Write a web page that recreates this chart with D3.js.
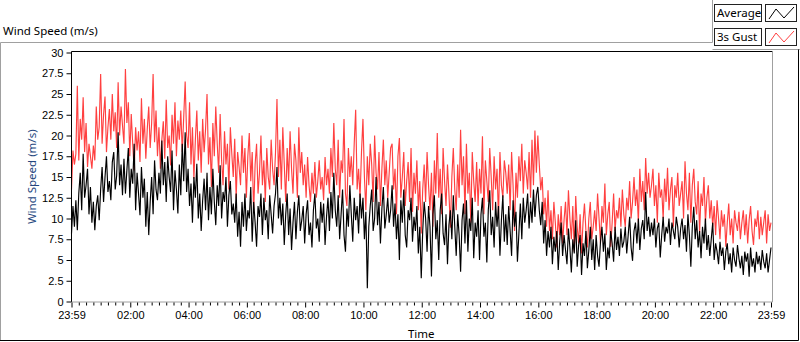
<!DOCTYPE html>
<html>
<head>
<meta charset="utf-8">
<script src="https://cdn.jsdelivr.net/npm/d3@7"></script>
<style>
  body { margin: 0; background: #fff; }
  svg { display: block; font-family: "Noto Sans", sans-serif; }
  .tick text { font-size: 11px; fill: #000; }
</style>
</head>
<body>
<svg id="chart" width="800" height="342"></svg>
<script>
// one sample every 3 minutes, starting 23:59 (481 samples, 20 per hour row)
const stepMinutes = 3;

const avgSpeed = [
  8.2, 11.5, 9.0, 12.2, 8.6, 13.0, 15.5, 11.0, 17.8, 12.5, 14.0, 16.0, 10.5, 13.8, 9.5, 12.0, 8.6, 11.5, 12.8, 9.8,
  13.5, 16.2, 12.0, 15.0, 17.5, 13.2, 14.5, 12.2, 16.8, 18.0, 13.5, 15.2, 20.4, 14.0, 16.5, 12.8, 17.2, 13.0, 15.8, 18.5,
  12.5, 16.0, 14.2, 19.0, 11.0, 15.5, 13.0, 10.4, 16.2, 12.5, 14.8, 9.0, 13.2, 8.0, 12.0, 15.0, 10.5, 17.0, 13.5, 12.2,
  15.5, 13.0, 19.4, 14.0, 16.8, 12.0, 17.5, 15.0, 13.2, 18.2, 11.0, 15.8, 13.5, 10.6, 16.5, 12.8, 19.0, 14.5, 20.4, 13.2,
  16.0, 11.5, 14.2, 9.5, 15.0, 12.5, 16.6, 10.0, 13.0, 8.5, 12.2, 14.8, 11.0, 15.5, 9.8, 13.8, 10.5, 16.0, 12.0, 9.2,
  14.0, 11.5, 16.4, 10.0, 13.2, 12.0, 15.0, 9.0, 12.8, 14.5, 10.5, 11.8, 9.5, 13.0, 7.8, 10.8, 6.6, 12.0, 9.0, 13.0,
  8.5, 11.0, 10.0, 13.8, 7.2, 12.0, 9.5, 6.6, 11.5, 10.2, 13.0, 8.0, 12.5, 9.8, 11.0, 7.5, 12.8, 10.5, 8.2, 11.5,
  13.0, 16.2, 10.0, 12.5, 9.2, 11.8, 6.8, 10.5, 13.0, 8.0, 11.2, 6.2, 9.5, 12.0, 7.5, 10.8, 12.8, 8.5, 9.8, 11.5,
  7.0, 10.5, 12.2, 8.0, 9.5, 6.5, 11.0, 13.0, 8.8, 10.0, 7.2, 12.0, 9.5, 11.8, 6.8, 10.2, 12.5, 8.5, 13.2, 10.0,
  15.5, 11.0, 9.0, 12.8, 7.5, 10.5, 13.5, 8.0, 6.0, 11.2, 9.0, 14.0, 10.5, 7.2, 12.5, 9.8, 11.5, 8.2, 13.0, 10.0,
  12.5, 7.5, 10.8, 1.6, 9.0, 11.5, 13.5, 8.5, 10.0, 15.0, 9.2, 12.0, 7.0, 11.2, 13.8, 8.8, 10.5, 12.5, 9.5, 11.0,
  14.0, 9.0, 11.8, 7.5, 10.5, 5.0, 12.2, 9.5, 13.5, 8.0, 6.5, 11.0, 9.8, 12.5, 7.2, 10.2, 8.5, 11.5, 5.8, 9.0,
  2.8, 8.5, 12.0, 10.0, 6.0, 11.5, 9.0, 3.0, 10.5, 12.8, 7.5, 9.8, 5.0, 11.0, 13.0, 8.2, 6.8, 10.5, 4.5, 9.2,
  11.0, 7.5, 12.8, 9.0, 5.5, 10.5, 8.0, 3.6, 9.8, 11.8, 7.0, 12.2, 6.0, 10.0, 8.5, 12.5, 5.2, 9.5, 7.8, 11.0,
  5.0, 10.5, 12.5, 7.8, 9.5, 4.7, 11.0, 13.4, 8.0, 10.2, 6.5, 12.0, 9.0, 11.5, 5.5, 9.8, 12.8, 7.2, 10.5, 6.8,
  11.5, 8.5, 5.5, 12.2, 9.0, 10.8, 4.8, 8.2, 11.8, 7.5, 12.5, 9.5, 11.0, 13.0, 8.8, 12.0, 9.5, 13.5, 10.2, 12.8,
  13.8, 11.0, 9.2, 12.0, 7.0, 9.8, 5.5, 8.5, 6.5, 9.0, 4.5, 7.8, 6.0, 8.5, 3.8, 7.2, 9.5, 5.5, 8.0, 6.2,
  4.5, 8.8, 6.5, 3.5, 7.5, 5.8, 9.8, 4.2, 6.8, 8.0, 3.2, 7.0, 5.5, 8.5, 4.0, 6.2, 9.0, 5.0, 7.5, 3.8,
  8.0, 5.5, 4.2, 7.2, 9.0, 6.0, 8.2, 3.8, 6.5, 5.2, 8.5, 7.0, 4.8, 9.0, 6.2, 7.8, 5.5, 8.8, 6.5, 7.2,
  9.0, 5.8, 8.0, 10.2, 6.5, 4.9, 8.5, 9.5, 7.0, 10.0, 6.2, 8.8, 9.8, 7.5, 13.2, 8.5, 10.2, 7.8, 9.5, 8.0,
  10.0, 6.5, 8.8, 9.5, 5.3, 8.0, 10.2, 7.2, 9.0, 8.2, 10.0, 6.8, 9.5, 8.5, 7.5, 10.2, 9.0, 6.5, 8.8, 10.0,
  7.5, 9.2, 6.0, 10.5, 8.0, 4.2, 9.0, 11.4, 7.5, 9.8, 6.5, 8.5, 5.2, 9.0, 7.0, 10.0, 6.2, 8.0, 5.5, 7.5,
  9.5, 5.0, 7.0, 6.0, 4.5, 7.2, 5.5, 6.5, 3.8, 6.0, 7.0, 4.5, 5.8, 3.5, 6.5, 5.0, 4.2, 6.8, 5.2, 4.0,
  5.5, 3.2, 6.0, 4.8, 5.8, 3.0, 6.5, 4.2, 5.2, 3.5, 6.0, 4.5, 5.5, 3.8, 6.2, 4.8, 4.0, 5.8, 3.5, 5.0,
  6.5
];

const gustSpeed = [
  13.5, 18.2, 16.5, 17.8, 26.0, 17.0, 22.0, 19.5, 24.6, 18.0, 21.5, 16.2, 19.0, 17.5, 16.0, 18.8, 17.0, 23.5, 19.5, 21.0,
  27.4, 19.0, 22.5, 24.7, 18.0, 21.0, 23.2, 19.5, 25.0, 20.5, 22.8, 18.5, 26.4, 20.0, 23.5, 21.2, 19.0, 28.0, 21.5, 24.0,
  17.5, 22.6, 19.0, 15.8, 21.0, 18.2, 20.5, 16.8, 24.5, 19.0, 22.0, 17.2, 20.8, 23.5, 18.5, 21.5, 27.4, 19.2, 23.0, 17.5,
  21.0, 16.0, 19.5, 21.7, 17.2, 24.3, 18.5, 20.0, 16.4, 22.5, 19.0, 24.0, 17.5, 21.8, 19.5, 23.0, 18.0, 22.2, 26.5, 20.0,
  18.5, 24.0, 16.5, 21.0, 14.8, 19.5, 23.0, 17.0, 20.5, 15.5, 22.0, 18.0, 20.8, 25.0, 16.5, 19.8, 13.8, 21.5, 17.5, 23.5,
  19.0, 15.5, 22.6, 17.0, 14.0, 20.5, 16.5, 19.0, 13.5, 21.0, 17.8, 15.0, 19.6, 12.4, 18.0, 16.2, 14.0, 20.0, 15.5, 18.5,
  12.5, 17.5, 20.3, 14.5, 18.0, 10.7, 16.5, 19.0, 13.0, 15.5, 20.0, 14.0, 17.0, 12.0, 18.5, 15.0, 13.5, 19.5, 16.0, 14.0,
  18.0, 24.4, 15.0, 19.5, 13.5, 21.0, 16.5, 12.0, 18.5, 14.5, 20.5, 16.0, 13.0, 19.0, 17.0, 12.5, 21.0, 15.5, 18.0, 14.0,
  16.5, 12.5, 17.4, 14.0, 12.0, 15.5, 13.0, 16.8, 12.5, 14.5, 17.0, 13.5, 15.0, 12.2, 17.4, 14.0, 16.0, 13.0, 18.5, 15.0,
  21.5, 16.0, 14.0, 19.5, 12.5, 17.0, 15.5, 22.0, 13.0, 11.5, 18.5, 15.0, 17.5, 14.0, 19.0, 23.1, 13.5, 16.0, 12.5, 18.0,
  22.0, 15.0, 11.0, 17.5, 14.0, 19.0, 16.5, 12.0, 20.0, 15.5, 13.5, 18.0, 11.5, 16.0, 19.5, 14.0, 17.0, 12.5, 15.5, 18.5,
  19.0, 13.5, 16.0, 10.5, 17.5, 19.7, 12.5, 15.0, 18.0, 11.5, 14.5, 16.8, 12.0, 18.5, 10.8, 15.5, 13.0, 17.0, 11.0, 14.5,
  8.2, 13.5, 16.5, 12.0, 18.0, 14.0, 11.0, 15.5, 9.0, 17.0, 13.0, 20.3, 12.5, 16.0, 10.5, 18.5, 14.5, 11.5, 16.5, 13.0,
  8.9, 15.0, 18.5, 13.5, 11.0, 16.5, 12.5, 20.7, 14.0, 17.5, 10.5, 19.0, 13.0, 15.5, 9.5, 18.0, 14.5, 12.0, 16.8, 11.5,
  16.0, 13.0, 19.9, 10.5, 17.0, 14.5, 12.0, 18.5, 15.0, 11.0, 17.5, 13.5, 16.0, 10.0, 18.0, 14.0, 12.5, 17.0, 15.5, 13.0,
  16.5, 11.0, 18.0, 14.0, 8.5, 15.5, 12.5, 17.5, 14.5, 19.0, 13.0, 17.0, 15.5, 13.5, 18.0, 12.5, 19.5, 14.0, 20.6, 15.5,
  20.0, 16.5, 13.4, 15.0, 10.5, 12.5, 9.0, 13.4, 8.5, 11.0, 7.5, 12.0, 9.5, 6.5, 10.5, 8.0, 11.5, 7.0, 9.8, 12.0,
  8.0, 13.4, 10.0, 7.5, 11.5, 6.0, 12.7, 9.0, 7.0, 10.5, 5.8, 9.5, 11.8, 8.5, 6.5, 10.0, 12.0, 7.5, 9.0, 11.0,
  8.5, 13.0, 10.0, 7.0, 11.5, 9.5, 14.2, 8.0, 10.5, 12.0, 6.6, 9.5, 13.0, 8.5, 11.0, 10.0, 12.5, 9.0, 13.5, 10.5,
  9.0, 12.5, 11.0, 14.5, 10.0, 12.0, 15.0, 11.5, 13.5, 9.5, 16.0, 12.0, 14.5, 11.0, 17.3, 13.0, 15.5, 12.5, 14.0, 16.0,
  11.5, 14.0, 9.5, 15.5, 12.5, 13.5, 10.0, 14.8, 12.0, 16.1, 11.0, 13.5, 15.0, 9.0, 14.0, 12.5, 15.5, 11.5, 13.0, 14.5,
  10.0, 16.9, 13.0, 11.0, 15.5, 9.5, 14.0, 16.0, 12.0, 10.5, 14.5, 8.3, 13.0, 11.5, 15.0, 9.5, 12.5, 14.0, 10.0, 12.2,
  9.0, 11.5, 8.0, 12.2, 10.0, 7.5, 11.0, 9.0, 10.5, 6.6, 9.5, 11.8, 8.0, 10.0, 7.0, 11.0, 9.5, 8.5, 10.8, 7.5,
  9.5, 11.0, 8.0, 10.5, 7.0, 9.8, 11.5, 8.5, 6.8, 10.0, 9.0, 11.0, 7.5, 10.2, 8.0, 9.5, 11.0, 7.0, 10.5, 8.5,
  9.5
];

const yTicks = [0, 2.5, 5, 7.5, 10, 12.5, 15, 17.5, 20, 22.5, 25, 27.5, 30];
// minutes after 23:59 for the labelled ticks
const xTickMinutes = [0, 121, 241, 361, 481, 601, 721, 841, 961, 1081, 1201, 1321, 1440];
const xTickLabels = ["23:59", "02:00", "04:00", "06:00", "08:00", "10:00", "12:00",
                     "14:00", "16:00", "18:00", "20:00", "22:00", "23:59"];
const seriesNames = ["Average", "3s Gust"];
const seriesColors = ["#000000", "#ff4040"];

const svg = d3.select('#chart');

const plotLeft = 71.5, plotRight = 772.5, plotTop = 51.5, plotBottom = 302;

const x = d3.scaleLinear().domain([0, 1440]).range([plotLeft, 771]);
const y = d3.scaleLinear().domain([0, 30]).range([301.5, 52.5]);

// outer panel frame
svg.append('path')
    .attr('d', 'M0.5,341 V42.5 H712.5 V0 M712.5,49.5 H800')
    .attr('fill', 'none').attr('stroke', '#a0a0a0');
svg.append('path')
    .attr('d', 'M798.5,49.5 V340.5 H0')
    .attr('fill', 'none').attr('stroke', '#000');

svg.append('text')
    .attr('x', 3).attr('y', 35)
    .style('font-size', '11.5px')
    .text('Wind Speed (m/s)');

// plot area
svg.append('rect')
    .attr('x', plotLeft).attr('y', plotTop)
    .attr('width', plotRight - plotLeft).attr('height', plotBottom - plotTop)
    .attr('fill', '#fff');

const line = d3.line()
    .x(function(d, i) { return x(i * stepMinutes); })
    .y(function(d) { return y(d); });

const plot = svg.append('g');
plot.append('path')
    .datum(gustSpeed)
    .attr('fill', 'none')
    .attr('stroke', seriesColors[1])
    .attr('stroke-width', 1.15)
    .attr('d', line);
plot.append('path')
    .datum(avgSpeed)
    .attr('fill', 'none')
    .attr('stroke', seriesColors[0])
    .attr('stroke-width', 1.15)
    .attr('d', line);

// sunken border of the plot area
svg.append('path')
    .attr('d', 'M' + plotLeft + ',' + plotBottom + ' V' + plotTop + ' H' + plotRight)
    .attr('fill', 'none').attr('stroke', '#000');
svg.append('path')
    .attr('d', 'M' + plotRight + ',' + plotTop + ' V' + plotBottom + ' H' + plotLeft)
    .attr('fill', 'none').attr('stroke', '#a0a0a0');

// y axis
const yAxis = d3.axisLeft(y)
    .tickValues(yTicks)
    .tickSize(5)
    .tickPadding(3)
    .tickFormat(function(d) { return String(d); });
const gy = svg.append('g')
    .attr('transform', 'translate(' + plotLeft + ',0)')
    .call(yAxis);
gy.select('.domain').remove();

// x axis: minor ticks every 15 minutes, labelled ticks every 2 hours
const minorTicks = d3.range(15, 1440, 15).filter(function(m) {
    return xTickMinutes.every(function(t) { return Math.abs(t - m) > 3; });
});
const gxMinor = svg.append('g')
    .attr('transform', 'translate(0,' + (plotBottom + 0.5) + ')')
    .call(d3.axisBottom(x).tickValues(minorTicks).tickSize(3).tickFormat(''));
gxMinor.select('.domain').remove();

const gx = svg.append('g')
    .attr('transform', 'translate(0,' + (plotBottom + 0.5) + ')')
    .call(d3.axisBottom(x)
        .tickValues(xTickMinutes)
        .tickSize(5)
        .tickPadding(4)
        .tickFormat(function(d, i) { return xTickLabels[i]; }));
gx.select('.domain').remove();

svg.append('text')
    .attr('x', (plotLeft + 771) / 2).attr('y', 338)
    .attr('text-anchor', 'middle')
    .style('font-size', '11.5px')
    .text('Time');

svg.append('text')
    .attr('transform', 'translate(36,' + ((plotTop + plotBottom) / 2) + ') rotate(-90)')
    .attr('text-anchor', 'middle')
    .style('font-size', '11.5px')
    .attr('fill', '#24467e')
    .text('Wind Speed (m/s)');

// legend
const legend = svg.selectAll('.legend')
    .data(seriesNames)
    .enter().append('g')
    .attr('class', 'legend')
    .attr('transform', function(d, i) { return 'translate(714,' + (4 + i * 24) + ')'; });

legend.append('rect')
    .attr('x', 0.5).attr('y', 0.5)
    .attr('width', 47).attr('height', 17)
    .attr('fill', '#fff').attr('stroke', '#222');
legend.append('text')
    .attr('x', 3).attr('y', 13)
    .style('font-size', '11.5px')
    .text(function(d) { return d; });
legend.append('rect')
    .attr('x', 51.5).attr('y', 0.5)
    .attr('width', 31).attr('height', 17)
    .attr('fill', '#fff').attr('stroke', '#222');
legend.append('polyline')
    .attr('points', '55,15 62,5 70,14 80,3')
    .attr('fill', 'none')
    .attr('stroke', function(d, i) { return seriesColors[i]; });
</script>
</body>
</html>
